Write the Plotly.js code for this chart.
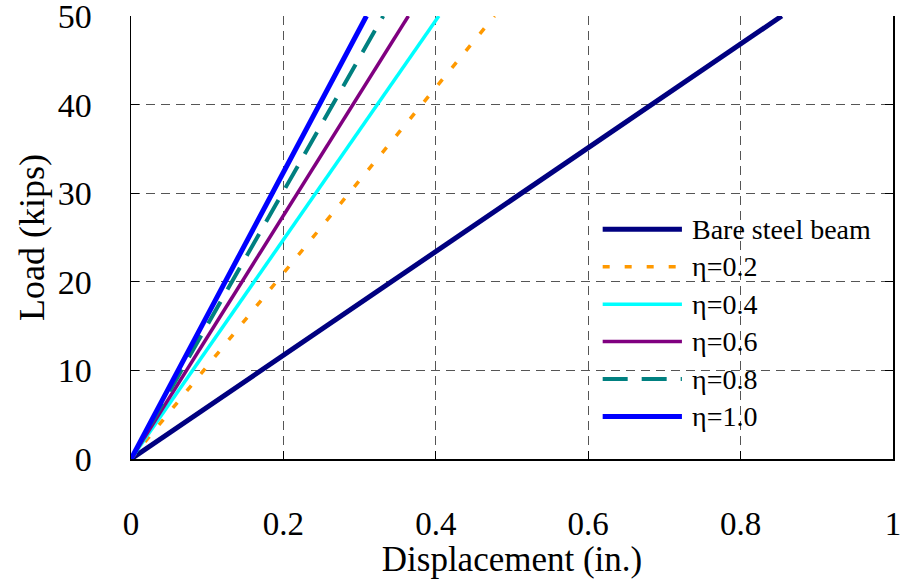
<!DOCTYPE html>
<html>
<head>
<meta charset="utf-8">
<script src="https://cdn.plot.ly/plotly-3.0.1.min.js"></script>
<style>
  html, body { margin: 0; padding: 0; background: #fff; }
  #chart { width: 901px; height: 579px; }
</style>
</head>
<body>
<div id="chart"></div>
<script>
// Load–displacement response of the beam for each degree of shear connection
const seriesNames = ["Bare steel beam", "η=0.2", "η=0.4", "η=0.6", "η=0.8", "η=1.0"];
const loadKips = [0, 50];
const dispBare = [0, 0.854];
const dispEta02 = [0, 0.477];
const dispEta04 = [0, 0.404];
const dispEta06 = [0, 0.364];
const dispEta08 = [0, 0.331];
const dispEta10 = [0, 0.309];
const xTicks = [0, 0.2, 0.4, 0.6, 0.8, 1];
const xTickLabels = ["0", "0.2", "0.4", "0.6", "0.8", "1"];
const yTicks = [0, 10, 20, 30, 40, 50];

const serif = "'Liberation Serif', 'Times New Roman', serif";

const styles = [
  { color: "#000080", width: 5, dash: "solid" },
  { color: "#FF9900", width: 3.5, dash: "7px,15px" },
  { color: "#00FFFF", width: 3.5, dash: "solid" },
  { color: "#800080", width: 3.5, dash: "solid" },
  { color: "#008080", width: 4, dash: "25px,14px" },
  { color: "#0000FF", width: 5, dash: "solid" }
];
const dispSeries = [dispBare, dispEta02, dispEta04, dispEta06, dispEta08, dispEta10];

const traces = dispSeries.map((d, i) => ({
  x: d,
  y: loadKips,
  type: "scatter",
  mode: "lines",
  name: seriesNames[i],
  line: styles[i],
  hoverinfo: "skip",
  showlegend: false
}));

// Key drawn in paper space so each sample line can be as long as the plot's own key
const keyTop = 0.5185, keyStep = 0.0845;
const keyLineX0 = 0.619, keyLineX1 = 0.723, keyTextX = 0.733;
const shapes = [];
const annotations = [];
seriesNames.forEach((name, i) => {
  const y = keyTop - i * keyStep;
  shapes.push({
    type: "line", xref: "paper", yref: "paper",
    x0: keyLineX0, x1: keyLineX1, y0: y, y1: y,
    line: { color: styles[i].color, width: styles[i].width, dash: styles[i].dash }
  });
  annotations.push({
    xref: "paper", yref: "paper", x: keyTextX, y: y,
    xanchor: "left", yanchor: "middle", showarrow: false,
    text: name, font: { family: serif, size: 28, color: "#000" }
  });
});

const layout = {
  width: 901,
  height: 579,
  margin: { l: 131, r: 8, t: 16, b: 120 },
  paper_bgcolor: "#fff",
  plot_bgcolor: "#fff",
  font: { family: serif, color: "#000" },
  showlegend: false,
  shapes: shapes,
  annotations: annotations,
  xaxis: {
    range: [0, 1],
    tickvals: xTicks,
    ticktext: xTickLabels,
    tickfont: { family: serif, size: 33, color: "#000" },
    ticklabeloverflow: "allow",
    ticks: "inside",
    ticklen: 8,
    tickcolor: "#000",
    ticklabelstandoff: 35,
    showline: true,
    linecolor: "#000",
    linewidth: 1.5,
    mirror: false,
    showgrid: true,
    gridcolor: "#555",
    gridwidth: 1,
    griddash: "9px,6px",
    zeroline: false,
    title: { text: "Displacement (in.)", font: { family: serif, size: 35, color: "#000" }, standoff: 3 },
    fixedrange: true
  },
  yaxis: {
    range: [0, 50],
    tickvals: yTicks,
    tickfont: { family: serif, size: 34, color: "#000" },
    ticklabeloverflow: "allow",
    ticks: "inside",
    ticklen: 8,
    tickcolor: "#000",
    ticklabelstandoff: 31,
    showline: true,
    linecolor: "#000",
    linewidth: 1.5,
    mirror: "ticks",
    showgrid: true,
    gridcolor: "#555",
    gridwidth: 1,
    griddash: "9px,6px",
    zeroline: false,
    title: { text: "Load (kips)", font: { family: serif, size: 36, color: "#000" }, standoff: 2 },
    fixedrange: true
  }
};

Plotly.newPlot("chart", traces, layout, { displayModeBar: false, staticPlot: true });
</script>
</body>
</html>
